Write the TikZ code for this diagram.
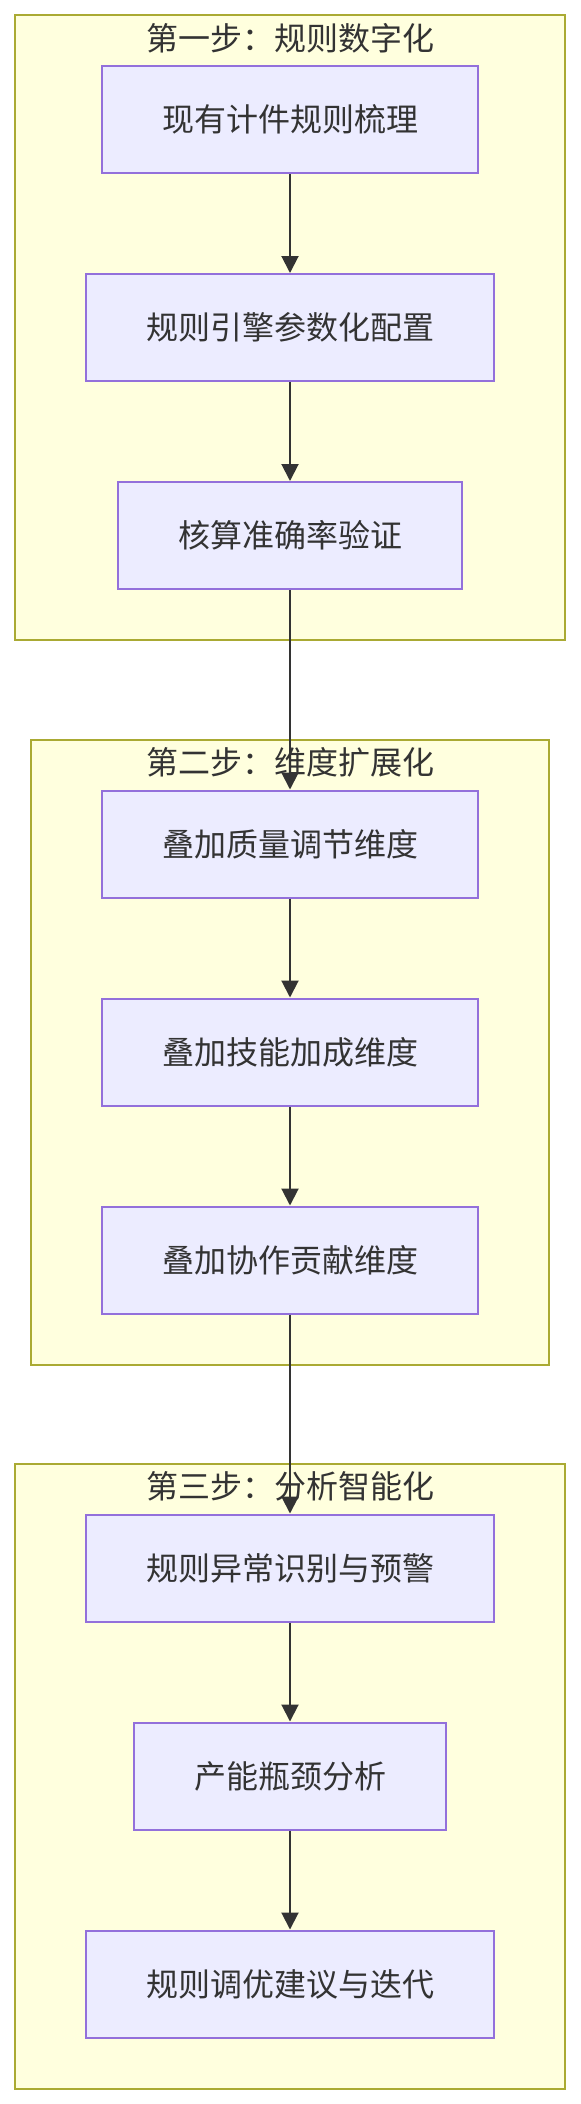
\documentclass[tikz,border=0pt]{standalone}
\usepackage{fontspec}
\setmainfont{Noto Sans CJK SC}
\usepackage{xcolor}
\usetikzlibrary{arrows.meta,fit,backgrounds}
\definecolor{nodefill}{HTML}{ECECFF}
\definecolor{nodeline}{HTML}{9370DB}
\definecolor{clusterfill}{HTML}{FFFFDE}
\definecolor{clusterline}{HTML}{AAAA33}
\definecolor{textgray}{HTML}{333333}
\tikzset{
  stepbox/.style={draw=nodeline, fill=nodefill, line width=1pt, inner xsep=30pt, inner ysep=0pt, minimum height=53.5pt, text=textgray, font=\fontsize{16pt}{19pt}\selectfont},
  cluster/.style={draw=clusterline, fill=clusterfill, line width=1pt, inner xsep=35pt, inner ysep=25pt},
  arrow/.style={-{Triangle[length=8.5pt,width=8.5pt]}, line width=1pt, draw=textgray}
}

\begin{document}
\begin{tikzpicture}[
  x=0.5pt, y=-0.5pt,
  lbl/.style={font=\fontsize{16pt}{19pt}\selectfont, text=textgray, inner sep=0pt}
]
\useasboundingbox (0,0) rectangle (580,2104);
% Stufe 1
\node[stepbox] (collect) at (290,119.5) {现有计件规则梳理};
\node[stepbox] (engine)  at (290,327.5) {规则引擎参数化配置};
\node[stepbox] (verify)  at (290,535.5) {核算准确率验证};
% Stufe 2
\node[stepbox] (quality) at (290,844) {叠加质量调节维度};
\node[stepbox] (skill)   at (290,1052) {叠加技能加成维度};
\node[stepbox] (coop)    at (290,1260) {叠加协作贡献维度};
% Stufe 3
\node[stepbox] (alert)   at (290,1568) {规则异常识别与预警};
\node[stepbox] (neck)    at (290,1776) {产能瓶颈分析};
\node[stepbox] (tune)    at (290,1984) {规则调优建议与迭代};
\begin{scope}[on background layer]
\node[cluster, fit=(collect) (engine) (verify)] (digit) {};
\node[cluster, fit=(quality) (skill) (coop)] (dims) {};
\node[cluster, fit=(alert) (neck) (tune)] (smart) {};
\end{scope}
\node[lbl, yshift=-12pt] at (digit.north) {第一步：规则数字化};
\node[lbl, yshift=-12pt] at (dims.north) {第二步：维度扩展化};
\node[lbl, yshift=-12pt] at (smart.north) {第三步：分析智能化};
\draw[arrow] (collect) -- (engine);
\draw[arrow] (engine) -- (verify);
\draw[arrow] (verify) -- (quality);
\draw[arrow] (quality) -- (skill);
\draw[arrow] (skill) -- (coop);
\draw[arrow] (coop) -- (alert);
\draw[arrow] (alert) -- (neck);
\draw[arrow] (neck) -- (tune);
\end{tikzpicture}
\end{document}
